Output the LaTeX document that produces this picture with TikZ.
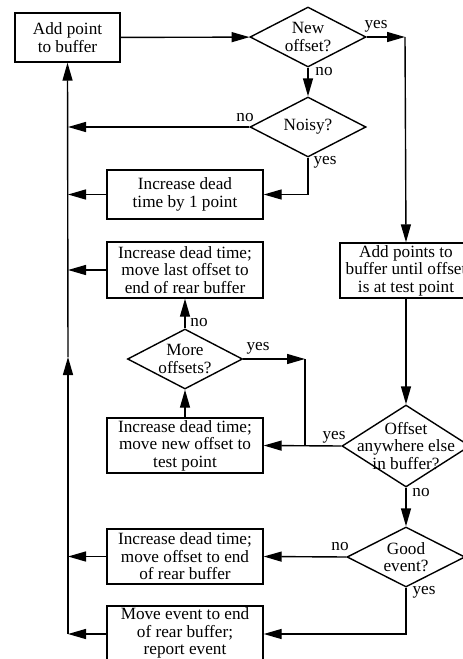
\documentclass[tikz,border=0pt]{standalone}
\usepackage{fontspec}
\setmainfont{Liberation Serif}
\usetikzlibrary{shapes.geometric,arrows.meta}
\begin{document}
\begin{tikzpicture}[x=1pt,y=-1pt,
  every node/.style={font=\fontsize{17.2}{17.6}\selectfont},
  box/.style={draw, line width=1.4pt, rectangle, align=center, inner sep=0pt},
  dia/.style={draw, line width=1.4pt, diamond, inner sep=0pt},
  txt/.style={align=center, inner sep=0pt},
  lbl/.style={inner sep=0pt},
  arr/.style={line width=1.4pt, -{Triangle[length=18pt,width=10pt]}},
  ln/.style={line width=1.4pt}]
\useasboundingbox (0,0) rectangle (463,659);
\clip (0,0) rectangle (463,659);
% boxes
\node[box, minimum width=105, minimum height=49] (add) at (67.5,37.5) {};
\node[txt] at (add) {Add point\\to buffer};
\node[box, minimum width=156, minimum height=49] (inc1) at (185,194.5) {};
\node[txt] at (inc1) {Increase dead\\time by 1 point};
\node[box, minimum width=156, minimum height=56] (inc2) at (185,270) {};
\node[txt] at (inc2) {Increase dead time;\\move last offset to\\end of rear buffer};
\node[box, minimum width=156, minimum height=55] (inc3) at (185,445.5) {};
\node[txt] at (inc3) {Increase dead time;\\move new offset to\\test point};
\node[box, minimum width=156, minimum height=55] (inc4) at (185,556.5) {};
\node[txt] at (inc4) {Increase dead time;\\move offset to end\\of rear buffer};
\node[box, minimum width=156, minimum height=56] (inc5) at (185,634) {};
\node[txt] at (185,633) {Move event to end\\of rear buffer;\\report event};
\node[box, minimum width=132, minimum height=55] (addpts) at (406,270.5) {};
\node[txt] at (406,270.5) {Add points to\\buffer until offset\\is at test point};
% diamonds
\node[dia, minimum width=116, minimum height=60] (newoff) at (308,37) {};
\node[txt] at (newoff) {New\\offset?};
\node[dia, minimum width=116, minimum height=60] (noisy) at (308,127) {};
\node[txt] at (noisy) {Noisy?};
\node[dia, minimum width=115, minimum height=60] (more) at (185,359) {};
\node[txt] at (more) {More\\offsets?};
\node[dia, minimum width=128, minimum height=82] (offset) at (406,446) {};
\node[txt] at (offset) {Offset\\anywhere else\\in buffer?};
\node[dia, minimum width=118, minimum height=60] (good) at (406,557) {};
\node[txt] at (good) {Good\\event?};
% coordinates
\coordinate (c1) at (405,37);
\coordinate (l1) at (68,127);
\coordinate (l2) at (68,194.5);
\coordinate (l3) at (68,270);
\coordinate (c3) at (305,359);
\coordinate (c4) at (305,445.5);
\coordinate (l4) at (68,556.5);
\coordinate (l5) at (68,634);
\coordinate (mid) at (68,357);
% connectors
\draw[arr] (add) -- (newoff);
\draw[arr] (newoff.east) -- (c1);
\draw[arr] (c1) -- (addpts.north);
\draw[arr] (newoff) -- (noisy);
\draw[arr] (noisy.west) -- (l1);
\draw[arr] (noisy.south) |- (inc1.east);
\draw[arr] (inc1.west) -- (l2);
\draw[arr] (inc2.west) -- (l3);
\draw[arr] (more) -- (inc2);
\draw[arr] (more.east) -- (c3);
\draw[ln] (c3) -- (c4);
\draw[arr] (inc3) -- (more);
\draw[arr] (offset.west) -- (inc3.east);
\draw[arr] (addpts) -- (offset);
\draw[arr] (offset) -- (good);
\draw[arr] (good.west) -- (inc4.east);
\draw[arr] (good.south) |- (inc5.east);
\draw[arr] (inc4.west) -- (l4);
\draw[arr] (inc5.west) -- (l5);
\draw[arr] (l5) -- (mid);
\draw[arr] (mid) -- (add.south);
% labels
\node[lbl] at (376,26) {yes};
\node[lbl] at (324,72) {no};
\node[lbl] at (245,118) {no};
\node[lbl] at (325,162) {yes};
\node[lbl] at (199,323) {no};
\node[lbl] at (258,348) {yes};
\node[lbl] at (334,437) {yes};
\node[lbl] at (421,493) {no};
\node[lbl] at (340,547) {no};
\node[lbl] at (424,592) {yes};
\end{tikzpicture}
\end{document}
